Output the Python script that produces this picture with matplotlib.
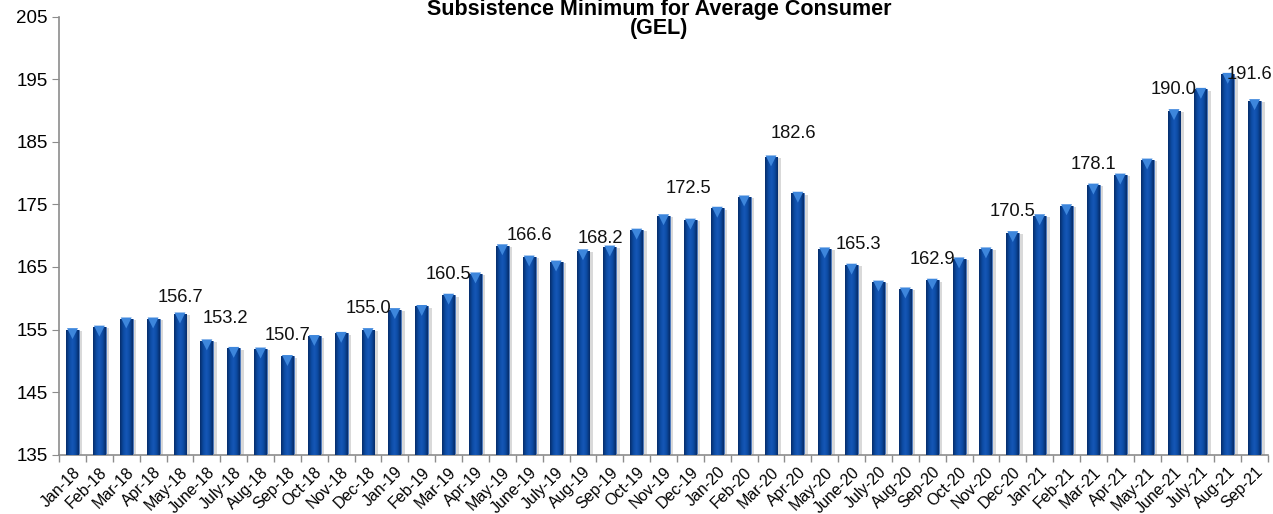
import numpy as np
import matplotlib
matplotlib.use("Agg")
import matplotlib.pyplot as plt
from matplotlib.colors import LinearSegmentedColormap
import matplotlib.patheffects as pe

# -----------------------------------------------------
# DATA
# -----------------------------------------------------
months = [
    "Jan-18", "Feb-18", "Mar-18", "Apr-18", "May-18", "June-18", "July-18", "Aug-18",
    "Sep-18", "Oct-18", "Nov-18", "Dec-18",
    "Jan-19", "Feb-19", "Mar-19", "Apr-19", "May-19", "June-19", "July-19", "Aug-19",
    "Sep-19", "Oct-19", "Nov-19", "Dec-19",
    "Jan-20", "Feb-20", "Mar-20", "Apr-20", "May-20", "June-20", "July-20", "Aug-20",
    "Sep-20", "Oct-20", "Nov-20", "Dec-20",
    "Jan-21", "Feb-21", "Mar-21", "Apr-21", "May-21", "June-21", "July-21", "Aug-21",
    "Sep-21",
]
values = [
    155.0, 155.4, 156.7, 156.7, 157.5, 153.2, 152.0, 151.9, 150.7, 153.9, 154.4, 155.0,
    158.2, 158.7, 160.5, 163.9, 168.4, 166.6, 165.8, 167.6, 168.2, 170.9, 173.2, 172.5,
    174.4, 176.2, 182.6, 176.8, 167.9, 165.3, 162.6, 161.5, 162.9, 166.3, 167.9, 170.5,
    173.2, 174.8, 178.1, 179.7, 182.1, 190.0, 193.4, 195.8, 191.6,
]
# months that carry a value label
labelled = ["Apr-18", "June-18", "Sep-18", "Dec-18", "Mar-19", "June-19", "Sep-19",
            "Dec-19", "Mar-20", "June-20", "Sep-20", "Dec-20", "Mar-21", "June-21", "Sep-21"]

# label offsets from the bar top, in pixels (dx, dy)
label_dx = [27, 19, 0, 0, 0, 0, -9, -2, 22, 7, 0, 0, 0, 0, -5]
label_dy = [21, 22, 21, 21, 21, 21, 8, 32, 23, 21, 21, 21, 21, 21, 26]

# -----------------------------------------------------
# FIGURE
# -----------------------------------------------------
plt.rcParams["font.family"] = ["Liberation Sans", "DejaVu Sans"]

DPI = 100
fig = plt.figure(figsize=(12.73, 5.14), dpi=DPI)
ax = fig.add_axes([0.0464, 0.1154, 0.9497, 0.8521])

x = np.arange(len(months))
bars = ax.bar(x, values, width=0.48, color="#0b4596", zorder=2,
              edgecolor="#4a78bd", linewidth=0.6)

ax.set_xlim(-0.5, len(months) - 0.5)
ax.set_ylim(135, 205)

# horizontal shading on each bar: dark edges, brighter middle
shade = LinearSegmentedColormap.from_list(
    "barshade", ["#052c68", "#0c4aa2", "#1658b8", "#0c4aa2", "#052c68"])
grad = np.linspace(0, 1, 64).reshape(1, -1)
for b in bars:
    x0, w, h = b.get_x(), b.get_width(), b.get_height()
    b.set_path_effects([pe.SimplePatchShadow(offset=(2.5, -1), shadow_rgbFace="#a0a0a0",
                                             alpha=0.4), pe.Normal()])
    im = ax.imshow(grad, extent=[x0, x0 + w, 135, h], aspect="auto", cmap=shade,
                   zorder=3, interpolation="bicubic")
    im.set_clip_path(b)

# bevel triangle at each bar top
ax.scatter(x, np.array(values) - 0.65, marker="v", s=62, color="#3d86dc",
           edgecolors="none", zorder=4)

# value labels
for name, dx, dy in zip(labelled, label_dx, label_dy):
    i = months.index(name)
    ax.annotate(f"{values[i]:.1f}", xy=(i, values[i]),
                xytext=(dx * 72 / DPI, dy * 72 / DPI), textcoords="offset points",
                ha="center", va="center", fontsize=13.2, color="#111111", zorder=5)

# axes styling
for side in ["top", "right"]:
    ax.spines[side].set_visible(False)
for side in ["left", "bottom"]:
    ax.spines[side].set_color("#8c8c8c")
    ax.spines[side].set_linewidth(1.2)

ax.set_yticks(np.arange(135, 206, 10))
ax.tick_params(axis="y", labelsize=13.5, length=5, color="#8c8c8c", pad=3)

ax.set_xticks(x)
ax.set_xticklabels(months, rotation=45, ha="right", rotation_mode="anchor",
                   fontsize=11.5)
ax.set_xticks(np.arange(-0.5, len(months), 1), minor=True)
ax.tick_params(axis="x", which="major", length=0, pad=7)
ax.tick_params(axis="x", which="minor", length=5, color="#8c8c8c", width=1.0)

# two-line title at the top edge
fig.text(0.5177, 0.982, "Subsistence Minimum for Average Consumer", ha="center",
         va="center", fontsize=15.5, fontweight="bold")
fig.text(0.5177, 0.944, "(GEL)", ha="center", va="center", fontsize=15.5,
         fontweight="bold")

fig.savefig("out.png", dpi=DPI)
